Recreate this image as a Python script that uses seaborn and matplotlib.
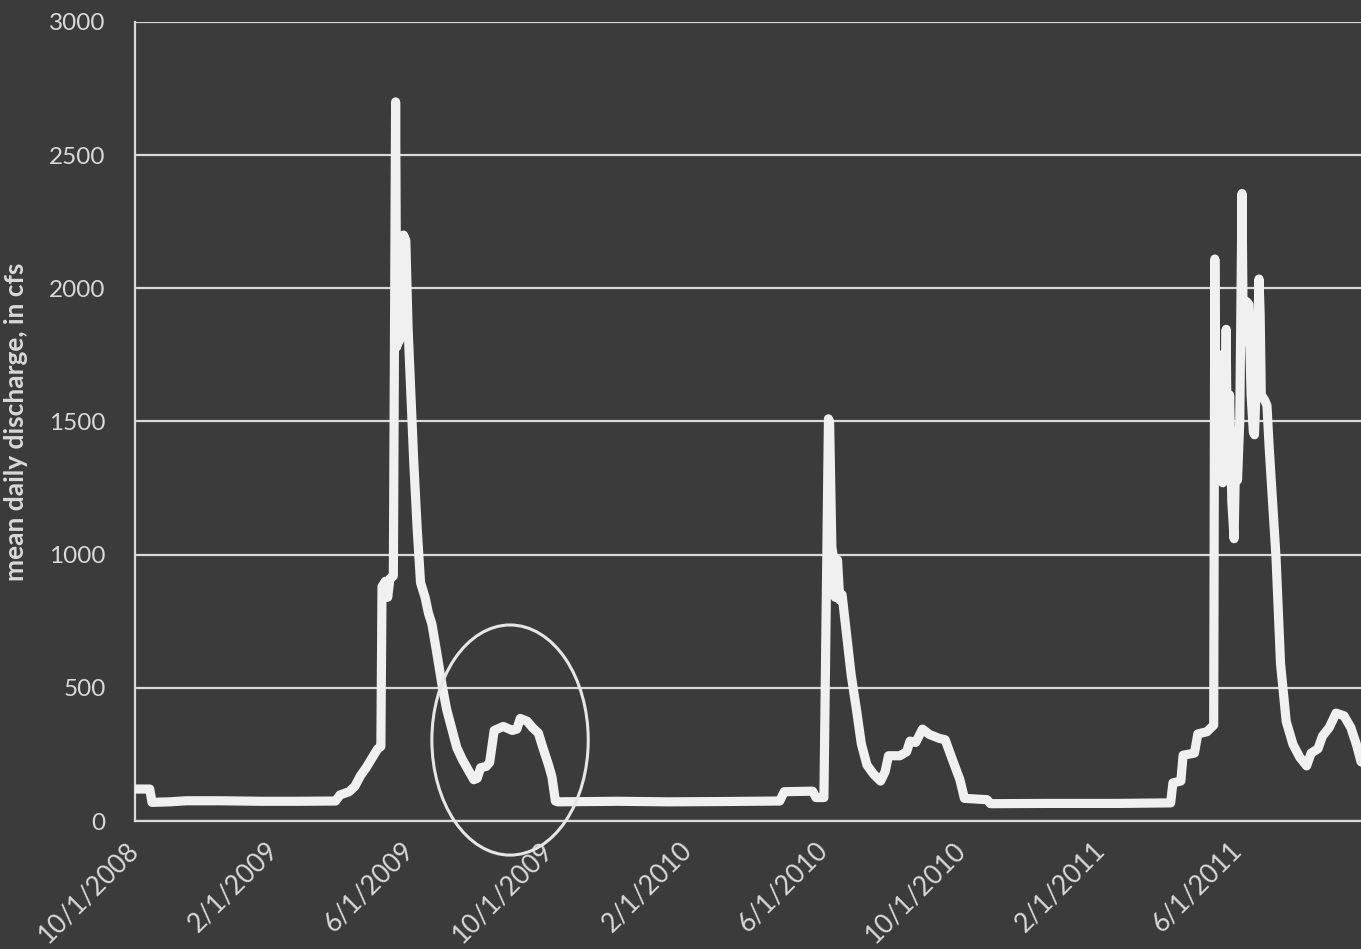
import matplotlib
matplotlib.use("Agg")
import matplotlib.pyplot as plt
import matplotlib.dates as mdates
from matplotlib.patches import Ellipse
import pandas as pd
import seaborn as sns

# ---------------- data ----------------
wy2009_dates = ["2008-10-01", "2008-10-14", "2008-10-16", "2008-11-01", "2008-11-15",
                "2008-12-15", "2009-01-20", "2009-02-20", "2009-03-27", "2009-03-31",
                "2009-04-08", "2009-04-13", "2009-04-18", "2009-04-23", "2009-04-28",
                "2009-05-03", "2009-05-06", "2009-05-07", "2009-05-10", "2009-05-12",
                "2009-05-14", "2009-05-17", "2009-05-19", "2009-05-20", "2009-05-21",
                "2009-05-22", "2009-05-23", "2009-05-24", "2009-05-25", "2009-05-26",
                "2009-05-28", "2009-05-30", "2009-06-02", "2009-06-04", "2009-06-07",
                "2009-06-10", "2009-06-14", "2009-06-17", "2009-06-20", "2009-06-24",
                "2009-06-29", "2009-07-03", "2009-07-08", "2009-07-12", "2009-07-17",
                "2009-07-21", "2009-07-27", "2009-07-30", "2009-08-02", "2009-08-07",
                "2009-08-10", "2009-08-14", "2009-08-22", "2009-08-30", "2009-09-03",
                "2009-09-06", "2009-09-12", "2009-09-17", "2009-09-22", "2009-09-26",
                "2009-10-01", "2009-10-04"]
wy2009_cfs = [120, 120, 70, 72, 76,
              76, 74, 74, 75, 98,
              110, 130, 170, 200, 235,
              270, 280, 880, 900, 840,
              910, 920, 2700, 1780, 2100,
              1800, 2150, 1850, 2050, 2200,
              2180, 1850, 1550, 1350, 1100,
              895, 840, 780, 740, 640,
              510, 420, 340, 275, 230,
              200, 155, 160, 200, 205,
              220, 340, 355, 340, 345,
              385, 375, 350, 330, 275,
              210, 165]

wy2010_dates = ["2009-10-07", "2009-10-09", "2009-12-01", "2010-01-15", "2010-03-01",
                "2010-04-23", "2010-04-27", "2010-05-22", "2010-05-25", "2010-06-01",
                "2010-06-05", "2010-06-06", "2010-06-08", "2010-06-09", "2010-06-11",
                "2010-06-13", "2010-06-15", "2010-06-17", "2010-06-21", "2010-06-25",
                "2010-06-30", "2010-07-04", "2010-07-09", "2010-07-15", "2010-07-21",
                "2010-07-25", "2010-07-28", "2010-08-07", "2010-08-13", "2010-08-16",
                "2010-08-21", "2010-08-27", "2010-09-02", "2010-09-11", "2010-09-16",
                "2010-09-22", "2010-09-29"]
wy2010_cfs = [75, 72, 74, 72, 73,
              75, 110, 112, 88, 88,
              1510, 1500, 1030, 1000, 840,
              980, 830, 850, 700, 550,
              410, 290, 210, 175, 150,
              185, 245, 245, 260, 300,
              295, 345, 325, 310, 305,
              235, 155]

wy2011_dates = ["2010-10-03", "2010-10-23", "2010-10-26", "2010-12-15", "2011-02-15",
                "2011-04-03", "2011-04-05", "2011-04-12", "2011-04-14", "2011-04-24",
                "2011-04-27", "2011-05-05", "2011-05-11", "2011-05-12", "2011-05-13",
                "2011-05-14", "2011-05-15", "2011-05-16", "2011-05-17", "2011-05-18",
                "2011-05-19", "2011-05-21", "2011-05-22", "2011-05-23", "2011-05-24",
                "2011-05-25", "2011-05-27", "2011-05-29", "2011-05-30", "2011-05-31",
                "2011-06-01", "2011-06-03", "2011-06-05", "2011-06-06", "2011-06-07",
                "2011-06-08", "2011-06-09", "2011-06-11", "2011-06-13", "2011-06-15",
                "2011-06-16", "2011-06-18", "2011-06-20", "2011-06-21", "2011-06-22",
                "2011-06-25", "2011-06-27", "2011-06-29", "2011-07-05", "2011-07-09",
                "2011-07-14", "2011-07-20", "2011-07-26", "2011-08-01", "2011-08-05",
                "2011-08-11", "2011-08-15", "2011-08-21", "2011-08-27", "2011-09-03",
                "2011-09-09", "2011-09-14", "2011-09-18", "2011-09-25"]
wy2011_cfs = [85, 80, 65, 66, 66,
              68, 143, 150, 247, 255,
              327, 335, 360, 2110, 1300,
              1700, 1280, 1750, 1400, 1500,
              1270, 1500, 1846, 1350, 1300,
              1600, 1200, 1060, 1300, 1450,
              1280, 1500, 2356, 1850, 1950,
              1800, 1950, 1940, 1600, 1460,
              1450, 1700, 2035, 1900, 1600,
              1580, 1560, 1400, 990, 590,
              374, 287, 239, 207, 255,
              271, 319, 351, 405, 395,
              351, 287, 223, 200]

y_ticks = [0, 500, 1000, 1500, 2000, 2500, 3000]
x_tick_labels = ["10/1/2008", "2/1/2009", "6/1/2009", "10/1/2009", "2/1/2010",
                 "6/1/2010", "10/1/2010", "2/1/2011", "6/1/2011"]
y_label = "mean daily discharge, in cfs"

# annotation ellipse (centre date, centre value, width in days, height in cfs)
circle_center_date = "2009-08-28"
circle_center_cfs = 304
circle_width_days = 138
circle_height_cfs = 864

# ---------------- styling ----------------
bg = "#3b3b3b"
fg = "#d9d9d9"
line_col = "#f0f0f0"

sns.set_style("dark", {"axes.facecolor": bg, "figure.facecolor": bg})
plt.rcParams["font.family"] = ["Lato", "DejaVu Sans"]

df = pd.DataFrame({
    "date": pd.to_datetime(wy2009_dates + wy2010_dates + wy2011_dates),
    "cfs": wy2009_cfs + wy2010_cfs + wy2011_cfs,
})

fig = plt.figure(figsize=(13.61, 9.49), dpi=100)
fig.patch.set_facecolor(bg)
ax = fig.add_axes([135 / 1361, 1 - 821 / 949, 1 - 135 / 1361, (821 - 22) / 949])
ax.set_facecolor(bg)

sns.lineplot(data=df, x="date", y="cfs", ax=ax, color=line_col, linewidth=6.6,
             solid_joinstyle="round", solid_capstyle="round", zorder=3)

ax.set_ylim(0, 3000)
ax.set_yticks(y_ticks)
ax.set_xlim(pd.Timestamp("2008-10-01"), pd.Timestamp("2011-09-18"))
tick_dates = pd.to_datetime(x_tick_labels, format="%m/%d/%Y")
ax.set_xticks(tick_dates)
ax.set_xticklabels(x_tick_labels)

ax.grid(False)
ax.yaxis.grid(True, color=fg, linewidth=1.6)
ax.set_axisbelow(True)

for side in ["top", "right"]:
    ax.spines[side].set_visible(False)
for side in ["left", "bottom"]:
    ax.spines[side].set_color(fg)
    ax.spines[side].set_linewidth(1.6)

ax.tick_params(axis="both", colors=fg, labelcolor=fg, length=9, width=1.5,
               direction="out")
ax.tick_params(axis="y", pad=12, labelsize=17.5)
ax.tick_params(axis="x", pad=9, labelsize=19)
for lab in ax.get_xticklabels():
    lab.set_rotation(45)
    lab.set_ha("right")
    lab.set_va("center")
    lab.set_rotation_mode("anchor")

ax.set_xlabel("")
ax.set_ylabel(y_label, color=fg, fontsize=19, fontweight="bold")
ax.yaxis.set_label_coords(-0.087, 0.5)

ell = Ellipse((mdates.date2num(pd.Timestamp(circle_center_date)), circle_center_cfs),
              width=circle_width_days, height=circle_height_cfs,
              fill=False, edgecolor="#e6e6e6", linewidth=2.2, clip_on=False, zorder=4)
ax.add_patch(ell)

fig.savefig("out.png", dpi=100, facecolor=bg)
